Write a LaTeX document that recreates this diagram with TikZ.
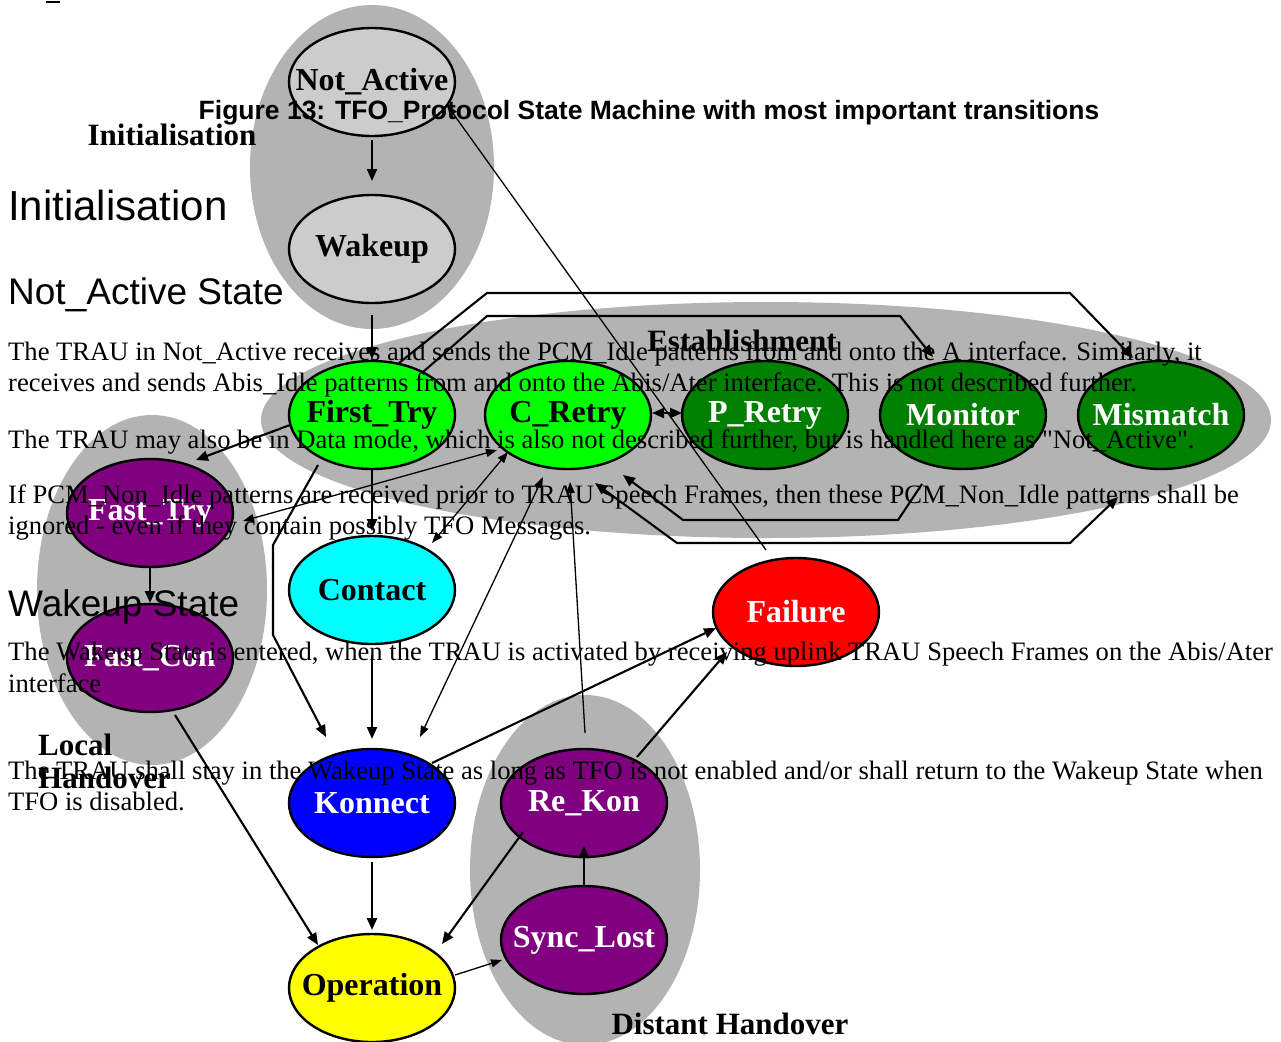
\documentclass[tikz,border=0pt]{standalone}
\usepackage{fontspec}
\setmainfont{Liberation Serif}[Ligatures=TeXOff]
\newfontfamily\arialfont{Liberation Sans}
\usetikzlibrary{arrows.meta,calc,shapes.geometric}

\definecolor{blobgray}{HTML}{B3B3B3}
\definecolor{idlegray}{HTML}{CCCCCC}
\definecolor{lime}{HTML}{00FF00}
\definecolor{darkgreen}{HTML}{008000}
\definecolor{plum}{HTML}{800080}
\definecolor{aqua}{HTML}{00FFFF}
\definecolor{pureblue}{HTML}{0000FF}
\definecolor{pureyellow}{HTML}{FFFF00}
\definecolor{purered}{HTML}{FF0000}

% state labels must not widen the ellipses; set a little below the centre
\newcommand\stlabel[1]{\raisebox{-3pt}{\makebox[0pt]{#1}}}

\begin{document}
\begin{tikzpicture}[x=1pt,y=-1pt,
  state/.style={ellipse, draw=black, line width=2.4pt, minimum width=166pt,
    minimum height=108pt, inner sep=0pt,
    font=\fontsize{32}{32}\selectfont\bfseries},
  conn/.style={line width=2.1pt, -{Triangle[length=12pt,width=10pt]}},
  biconn/.style={line width=2.1pt, {Triangle[length=12pt,width=10pt]}-{Triangle[length=12pt,width=10pt]}},
  thinconn/.style={line width=1.3pt, -{Triangle[length=11pt,width=8pt]}},
  thinbiconn/.style={line width=1.3pt, {Triangle[length=11pt,width=8pt]}-{Triangle[length=11pt,width=8pt]}},
  grouplabel/.style={inner sep=0pt, font=\fontsize{31}{31}\selectfont\bfseries},
  para/.style={inner sep=0pt, anchor=base west, font=\fontsize{26.6}{26.6}\selectfont},
  heading/.style={inner sep=0pt, anchor=base west, font=\arialfont\fontsize{37}{37}\selectfont}]

\useasboundingbox (0,0) rectangle (1281,1041);
\fill[white] (0,0) rectangle (1281,1041);

% group regions
\fill[blobgray] (372,167) ellipse [x radius=122, y radius=162];
\fill[blobgray] (766,420) ellipse [x radius=505, y radius=118];
\fill[blobgray] (152,590) ellipse [x radius=115, y radius=175];
\fill[blobgray] (585,870) ellipse [x radius=115, y radius=175];

% states
\node[state, fill=idlegray] (na) at (372,82) {\stlabel{Not\_Active}};
\node[state, fill=idlegray] (wk) at (372,249) {\stlabel{Wakeup}};
\node[state, fill=lime] (ft) at (372,415) {\stlabel{First\_Try}};
\node[state, fill=lime] (cr) at (568,415) {\stlabel{C\_Retry}};
\node[state, fill=darkgreen, text=white] (pr) at (765,415) {\stlabel{P\_Retry}};
\node[state, fill=darkgreen, text=white] (mo) at (963,415) {\stlabel{Monitor}};
\node[state, fill=darkgreen, text=white] (mm) at (1161,415) {\stlabel{Mismatch}};
\node[state, fill=plum, text=white] (fty) at (150,513) {\stlabel{Fast\_Try}};
\node[state, fill=plum, text=white] (fc) at (150,658) {\stlabel{Fast\_Con}};
\node[state, fill=aqua] (ct) at (372,590) {\stlabel{Contact}};
\node[state, fill=pureblue, text=white] (kn) at (372,803) {\stlabel{Konnect}};
\node[state, fill=pureyellow] (op) at (372,988) {\stlabel{Operation}};
\node[state, fill=purered, text=white] (fl) at (796,612) {\stlabel{Failure}};
\node[state, fill=plum, text=white] (rk) at (584,803) {\stlabel{Re\_Kon}};
\node[state, fill=plum, text=white] (sl) at (584,940) {\stlabel{Sync\_Lost}};

% transitions
\draw[conn] ($(na)+(0,58)$) -- ($(wk)+(0,-68)$);
\draw[conn] ($(wk)+(0,66)$) -- ($(ft)+(0,-56)$);
\draw[conn] ($(ft)+(-82,10)$) -- ($(fty)+(46,-53)$);
\draw[conn] ($(ft)+(0,55)$) -- ($(ct)+(0,-59)$);
\draw[conn] ($(ft)+(-54,50)$) -- (273,545) -- (273,635) -- ($(kn)+(-46,-66)$);
\draw[thinbiconn] ($(fty)+(93,8)$) -- ($(cr)+(-71,35)$);
\draw[thinbiconn] ($(ct)+(60,-47)$) -- ($(cr)+(-60,37)$);
\draw[thinbiconn] ($(kn)+(48,-66)$) -- ($(cr)+(-25,62)$);
\draw[thinconn] ($(rk)+(1,-70)$) -- ($(cr)+(2,67)$);
\draw[conn] ($(mo)+(-41,69)$) -- (898,520) -- (683,520) -- ($(cr)+(55,60)$);
\draw[biconn] ($(cr)+(27,68)$) -- (677,543) -- (1070,543) -- ($(mm)+(-43,82)$);
\draw[conn] ($(ft)+(51,-43)$) -- (487,316) -- (900,316) -- ($(mo)+(-30,-58)$);
\draw[conn] ($(ft)+(27,-52)$) -- (487,293) -- (1070,293) -- ($(mm)+(-28,-57)$);
\draw[biconn] ($(cr)+(84,-2)$) -- ($(pr)+(-83,-2)$);
\draw[thinconn] ($(fl)+(-30,-62)$) -- ($(na)+(75,23)$);
\draw[conn] ($(kn)+(60,-40)$) -- ($(fl)+(-80,16)$);
\draw[conn] ($(rk)+(53,-46)$) -- ($(fl)+(-69,40)$);
\draw[conn] ($(ct)+(0,65)$) -- ($(kn)+(0,-64)$);
\draw[conn] ($(kn)+(0,59)$) -- ($(op)+(0,-58)$);
\draw[conn] ($(fc)+(25,57)$) -- ($(op)+(-54,-43)$);
\draw[conn] ($(rk)+(-61,29)$) -- ($(op)+(70,-44)$);
\draw[thinconn] ($(op)+(83,-13)$) -- ($(sl)+(-82,20)$);
\draw[conn] ($(sl)+(0,-55)$) -- ($(rk)+(0,43)$);
\draw[conn] ($(fty)+(0,55)$) -- ($(fc)+(0,-55)$);

% group names
\node[grouplabel, anchor=base] (gInit) at (172,145) {Initialisation};
\node[grouplabel, anchor=base] (gEst) at (742,351) {Establishment};
\node[grouplabel, anchor=base west] (gLoc1) at (38,755) {Local};
\node[grouplabel, anchor=base west] (gLoc2) at (38,788) {Handover};
\node[grouplabel, anchor=base] (gDist) at (730,1034) {Distant Handover};

% stray underscore at the top edge
\draw[line width=1.5pt] (46,2) -- (60,2);

% caption
\node[inner sep=0pt, anchor=base, font=\arialfont\bfseries\fontsize{26.5}{26.5}\selectfont] (cap) at (649,119)
  {Figure 13: TFO\_Protocol State Machine with most important transitions};

% body text
\node[heading, font=\arialfont\fontsize{42}{42}\selectfont] (h1) at (8,220) {Initialisation};
\node[heading] (h2) at (8,304) {Not\_Active State};
\node[para] (t1) at (8,360) {The TRAU in Not\_Active receives and sends the PCM\_Idle patterns from and onto the A interface. Similarly, it};
\node[para] (t2) at (8,391) {receives and sends Abis\_Idle patterns from and onto the Abis/Ater interface. This is not described further.};
\node[para] (t3) at (8,448) {The TRAU may also be in Data mode, which is also not described further, but is handled here as "Not\_Active".};
\node[para] (t4) at (8,503) {If PCM\_Non\_Idle patterns are received prior to TRAU Speech Frames, then these PCM\_Non\_Idle patterns shall be};
\node[para] (t5) at (8,534) {ignored - even if they contain possibly TFO Messages.};
\node[heading] (h3) at (8,616) {Wakeup State};
\node[para] (t6) at (8,660) {The Wakeup State is entered, when the TRAU is activated by receiving uplink TRAU Speech Frames on the Abis/Ater};
\node[para] (t7) at (8,692) {interface};
\node[para] (t8) at (8,779) {The TRAU shall stay in the Wakeup State as long as TFO is not enabled and/or shall return to the Wakeup State when};
\node[para] (t9) at (8,810) {TFO is disabled.};
\end{tikzpicture}
\end{document}
